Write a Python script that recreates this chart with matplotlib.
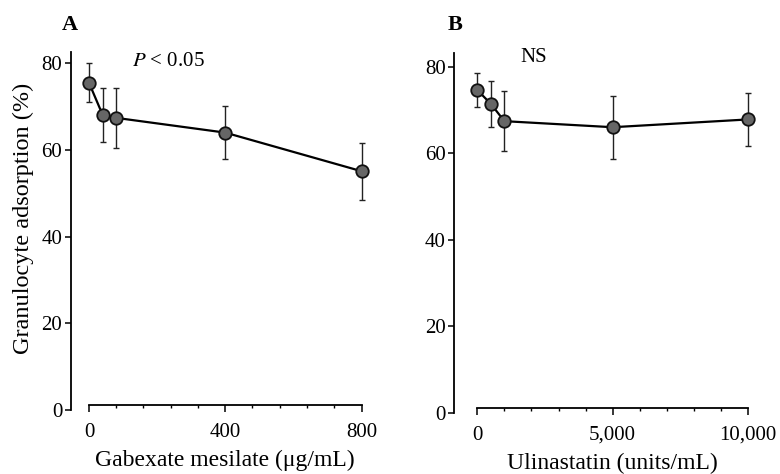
import matplotlib.pyplot as plt
from matplotlib.ticker import MultipleLocator, FuncFormatter

# panel A: gabexate mesilate
gab_dose = [0, 40, 80, 400, 800]
gab_mean = [75.5, 68.1, 67.4, 64.0, 55.1]
gab_sd = [4.5, 6.3, 7.0, 6.2, 6.6]

# panel B: ulinastatin
uli_dose = [0, 500, 1000, 5000, 10000]
uli_mean = [74.6, 71.4, 67.4, 66.0, 67.8]
uli_sd = [4.0, 5.3, 7.0, 7.3, 6.2]

plt.rcParams['font.family'] = ['Liberation Serif', 'DejaVu Serif']
plt.rcParams['mathtext.fontset'] = 'stix'

W, H = 780, 474
fig = plt.figure(figsize=(W / 100, H / 100), dpi=100)

def px_axes(left, right, bottom, top):
    return fig.add_axes([left / W, (H - bottom) / H, (right - left) / W, (bottom - top) / H])

axA = px_axes(70.7, 361.5, 410, 52)
axB = px_axes(454.3, 748, 412.5, 53.3)

def style(ax, xmin, xmax, ymax, major, minor, fmt):
    ax.set_xlim(xmin, xmax)
    ax.set_ylim(0, ymax)
    for s in ['top', 'right']:
        ax.spines[s].set_visible(False)
    ax.spines['bottom'].set_position(('data', 1.1))
    ax.spines['bottom'].set_bounds(0, xmax)
    ax.spines['left'].set_linewidth(1.3)
    ax.spines['bottom'].set_linewidth(1.3)
    ax.xaxis.set_major_locator(MultipleLocator(major))
    ax.xaxis.set_minor_locator(MultipleLocator(minor))
    ax.xaxis.set_major_formatter(FuncFormatter(fmt))
    ax.yaxis.set_major_locator(MultipleLocator(20))
    ax.tick_params(axis='x', which='major', length=5, width=1.1, labelsize=15, pad=8)
    ax.tick_params(axis='x', which='minor', length=2.5, width=1.0)
    ax.tick_params(axis='y', length=4.5, width=1.1, labelsize=15, pad=1.5)

def draw(ax, x, y, e):
    ax.errorbar(x, y, yerr=e, fmt='none', ecolor='#222222', elinewidth=1.0,
                capsize=2.5, capthick=1.0, clip_on=False, zorder=2)
    ax.plot(x, y, color='black', lw=1.6, marker='o', markersize=9,
            markerfacecolor='#666666', markeredgecolor='#111111', markeredgewidth=1.3,
            clip_on=False, zorder=3)

style(axA, -53.7, 800, 82.6, 400, 80, lambda v, p: f'{int(v)}')
style(axB, -850, 10000, 83.1, 5000, 1000, lambda v, p: f'{int(v):,}')

draw(axA, gab_dose, gab_mean, gab_sd)
draw(axB, uli_dose, uli_mean, uli_sd)

axA.set_xlabel('Gabexate mesilate (\u03bcg/mL)', fontsize=17)
axB.set_xlabel('Ulinastatin (units/mL)', fontsize=17)
# centre the x labels under the drawn part of each axis
axA.xaxis.set_label_coords((400 + 53.7) / 853.7, -0.112)
axB.xaxis.set_label_coords((5000 + 850) / 10850, -0.112)
axA.set_ylabel('Granulocyte adsorption (%)', fontsize=17.5)
axA.yaxis.set_label_coords(-0.125, 0.535)

fig.text(70 / W, 1 - 25 / H, 'A', fontsize=16, fontweight='bold', ha='center', va='center')
fig.text(455 / W, 1 - 25 / H, 'B', fontsize=16, fontweight='bold', ha='center', va='center')
fig.text(132 / W, 1 - 62 / H, r'$P$ < 0.05', fontsize=15, ha='left', va='center')
fig.text(520 / W, 1 - 58 / H, 'NS', fontsize=15, ha='left', va='center')

plt.savefig('out.png', dpi=100)
